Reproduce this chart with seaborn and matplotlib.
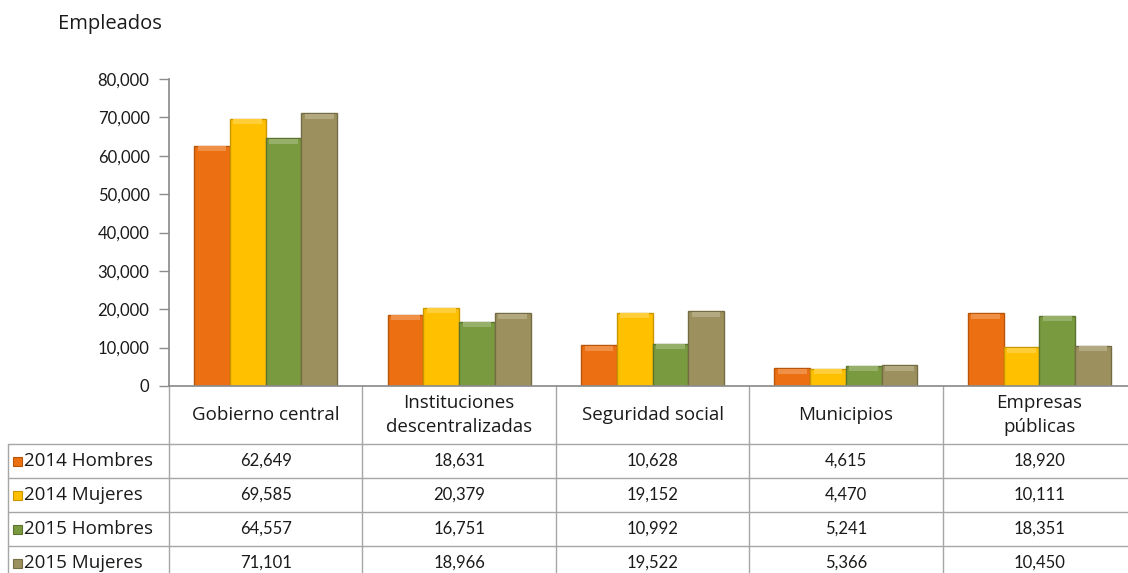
import matplotlib
matplotlib.use("Agg")
import matplotlib.pyplot as plt
import matplotlib.transforms as mtrans
from matplotlib.patches import Rectangle
from matplotlib.colors import to_rgb
import seaborn as sns
import pandas as pd

categories = ["Gobierno central", "Instituciones\ndescentralizadas", "Seguridad social",
              "Municipios", "Empresas\npúblicas"]
series = ["2014 Hombres", "2014 Mujeres", "2015 Hombres", "2015 Mujeres"]
hombres_2014 = [62649, 18631, 10628, 4615, 18920]
mujeres_2014 = [69585, 20379, 19152, 4470, 10111]
hombres_2015 = [64557, 16751, 10992, 5241, 18351]
mujeres_2015 = [71101, 18966, 19522, 5366, 10450]
colors = ["#EC7012", "#FFC000", "#7A9A3F", "#9C915E"]
edges = ["#B85508", "#C99600", "#5A7430", "#756C44"]

values = [hombres_2014, mujeres_2014, hombres_2015, mujeres_2015]
rows = []
for s, vals in zip(series, values):
    for c, v in zip(categories, vals):
        rows.append({"categoria": c, "serie": s, "empleados": v})
df = pd.DataFrame(rows)

sns.set_theme(style="white")
plt.rcParams["font.family"] = ["Lato", "DejaVu Sans"]
FS = 12
FS_WORD = 13.5
WORD = ["Open Sans", "DejaVu Sans"]
INK = "#1A1A1A"


def lighten(c, f):
    r, g, b = to_rgb(c)
    return (r + (1 - r) * f, g + (1 - g) * f, b + (1 - b) * f)


W, H = 1128, 573
fig = plt.figure(figsize=(W / 100, H / 100), dpi=100)
ax_left, ax_right, ax_top, ax_bot = 169, 1136, 79, 386
ax = fig.add_axes([ax_left / W, 1 - ax_bot / H, (ax_right - ax_left) / W, (ax_bot - ax_top) / H])

sns.barplot(data=df, x="categoria", y="empleados", hue="serie", order=categories,
            hue_order=series, palette=colors, width=0.74, ax=ax, legend=False,
            saturation=1)

ax.set_ylim(0, 80000)
ax.set_xlim(-0.5, 4.5)
units_per_px = 80000 / (ax_bot - ax_top)
for i, cont in enumerate(ax.containers):
    for bar in cont:
        bar.set_edgecolor(edges[i])
        bar.set_linewidth(1.0)
        # soft bevel highlight at the top of each bar
        band = 5 * units_per_px
        x0, w, h = bar.get_x(), bar.get_width(), bar.get_height()
        ax.add_patch(Rectangle((x0 + w * 0.1, h - band * 1.1), w * 0.8, band,
                               facecolor=lighten(colors[i], 0.22), edgecolor="none", zorder=3))

ax.set_yticks(range(0, 80001, 10000))
ax.set_yticklabels([f"{t:,}" for t in range(0, 80001, 10000)], fontsize=FS, color=INK)
ax.set_xticks([])
ax.set_xlabel("")
ax.set_ylabel("")
ax.tick_params(axis="y", length=7, width=1, color="#8C8C8C", direction="out", pad=7, left=True)
for side in ["top", "right"]:
    ax.spines[side].set_visible(False)
ax.spines["left"].set_color("#8C8C8C")
ax.spines["bottom"].set_color("#8C8C8C")

fig.text(58 / W, 1 - 24 / H, "Empleados", fontsize=14.5, family=WORD, va="center", ha="left", color=INK)


# data table beneath the axis
def fy(p):
    return 1 - p / H


line_kw = dict(color="#A6A6A6", lw=1, clip_on=False)
blend = mtrans.blended_transform_factory(ax.transData, fig.transFigure)
header_bot = 444
row_edges = [444, 478, 512, 546, 580]
left_px = 8

for k in range(6):
    xb = k - 0.5
    ax.plot([xb, xb], [fy(ax_bot), fy(H + 5)], transform=blend, **line_kw)
fig.add_artist(plt.Line2D([left_px / W, left_px / W], [fy(header_bot), 0], color="#A6A6A6", lw=1))
for r in row_edges:
    fig.add_artist(plt.Line2D([left_px / W, ax_left / W], [fy(r), fy(r)], color="#A6A6A6", lw=1))
    ax.plot([-0.5, 4.5], [fy(r), fy(r)], transform=blend, **line_kw)

for j, c in enumerate(categories):
    ax.text(j, fy((ax_bot + header_bot) / 2), c, transform=blend, ha="center", va="center",
            fontsize=FS_WORD, family=WORD, color=INK, linespacing=1.4)

for i, (s, vals) in enumerate(zip(series, values)):
    yc = fy((row_edges[i] + row_edges[i + 1]) / 2)
    fig.add_artist(Rectangle((13 / W, yc - 4.5 / H), 9 / W, 9 / H, transform=fig.transFigure,
                             facecolor=colors[i], edgecolor=edges[i], lw=0.8))
    fig.text(24 / W, yc, s, fontsize=FS_WORD, family=WORD, ha="left", va="center", color=INK)
    for j, v in enumerate(vals):
        ax.text(j, yc, f"{v:,}", transform=blend, ha="center", va="center",
                fontsize=FS, color=INK)

fig.savefig("out.png", dpi=100)
